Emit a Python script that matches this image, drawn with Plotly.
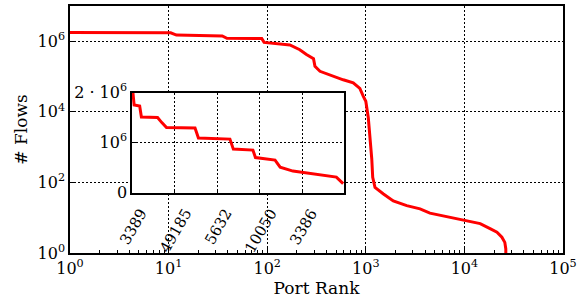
import plotly.graph_objects as go

# Main curve: port rank vs number of flows (log-log)
rank = [1, 10.5, 12, 35, 39, 88, 93, 140, 170, 214, 250, 295, 305, 343, 468, 590,
        746, 870, 944, 1000, 1060, 1120, 1150, 1175, 1240, 1510, 1900, 2600, 3550,
        4470, 6600, 10000, 14450, 18200, 21400, 24000, 25700, 26300, 26300]
flows = [1.76e6, 1.74e6, 1.5e6, 1.42e6, 1.22e6, 1.2e6, 9.3e5, 8.5e5, 7.9e5, 5.75e5,
         4.2e5, 3.2e5, 1.95e5, 1.41e5, 1.0e5, 8.1e4, 6.6e4, 4.6e4, 2.75e4, 2.0e4,
         6.8e3, 1.5e3, 4.6e2, 1.4e2, 72, 47, 30, 22, 17.8, 13.5, 10.7, 8.3, 6.8, 4.9,
         3.9, 2.8, 2.0, 1.3, 1.0]

# Inset: top ports (linear scale)
inset_rank = [0, 0.12, 0.25, 0.9, 1.1, 3.0, 3.5, 4.05, 7.4, 7.8, 11.5, 11.9, 14.2,
              14.5, 16.8, 17.4, 18.9, 21.7, 24.0, 24.8]
inset_flows = [2.0e6, 1.98e6, 1.75e6, 1.73e6, 1.51e6, 1.50e6, 1.40e6, 1.30e6, 1.29e6,
               1.09e6, 1.07e6, 0.87e6, 0.85e6, 0.70e6, 0.65e6, 0.51e6, 0.43e6,
               0.36e6, 0.31e6, 0.18e6]
inset_tick_pos = [0, 5, 10, 15, 20]
inset_tick_labels = ["3389", "49185", "5632", "10050", "3386"]

main_xticks = [1, 10, 100, 1000, 10000, 100000]
main_xlabels = ["10<sup>0</sup>", "10<sup>1</sup>", "10<sup>2</sup>",
                "10<sup>3</sup>", "10<sup>4</sup>", "10<sup>5</sup>"]
main_yticks = [1, 100, 10000, 1000000]
main_ylabels = ["10<sup>0</sup>", "10<sup>2</sup>", "10<sup>4</sup>", "10<sup>6</sup>"]
inset_yticks = [0, 1e6, 2e6]
inset_ylabels = ["0", "10<sup>6</sup>", "2 · 10<sup>6</sup>"]

FONT = "DejaVu Serif"
FS = 16
RED = "#ff0000"

fig = go.Figure()
fig.add_trace(go.Scatter(x=rank, y=flows, mode="lines",
                         line=dict(color=RED, width=3), xaxis="x", yaxis="y",
                         showlegend=False))
fig.add_trace(go.Scatter(x=inset_rank, y=inset_flows, mode="lines",
                         line=dict(color=RED, width=3), xaxis="x2", yaxis="y2",
                         showlegend=False))

minor_x = [m * 10 ** k for k in range(0, 5) for m in range(2, 10)]

grid = dict(showgrid=True, gridcolor="black", gridwidth=1, griddash="2px,2px")
axline = dict(showline=True, linecolor="black", linewidth=1.5, mirror=True,
              ticks="inside", tickcolor="black", tickwidth=1, zeroline=False,
              automargin=False)

fig.update_layout(
    width=580, height=304,
    margin=dict(l=70, r=17, t=6, b=51, autoexpand=False),
    paper_bgcolor="white", plot_bgcolor="white",
    font=dict(family=FONT, size=FS, color="black"),
    xaxis=dict(type="log", range=[0, 5], domain=[0, 1],
               tickvals=main_xticks, ticktext=main_xlabels, ticklen=6,
               minor=dict(tickvals=minor_x, ticks="inside", ticklen=3,
                          tickcolor="black", tickwidth=1, showgrid=False),
               title=dict(text="Port Rank", standoff=5, font=dict(size=17)),
               **grid, **axline),
    yaxis=dict(type="log", range=[0, 7], domain=[0, 1],
               tickvals=main_yticks, ticktext=main_ylabels, ticklen=6,
               title=dict(text="# Flows", standoff=6, font=dict(size=17)),
               **grid, **axline),
    xaxis2=dict(range=[0, 24.9], domain=[0.1258, 0.5558], anchor="y2",
                tickvals=inset_tick_pos, showticklabels=False, ticklen=4,
                **grid, **axline),
    yaxis2=dict(range=[0, 2e6], domain=[0.2445, 0.6494], anchor="x2",
                tickvals=inset_yticks, ticktext=inset_ylabels, ticklen=4,
                **grid, **axline),
)

for pos, lab in zip(inset_tick_pos, inset_tick_labels):
    fig.add_annotation(x=pos, xref="x2", y=0.203, yref="paper", text=lab,
                       showarrow=False, textangle=-60, xanchor="center",
                       yanchor="top", xshift=1, font=dict(family=FONT, size=15))

fig.write_html("out.html", config={"displayModeBar": False},
               post_script="document.body.style.margin='0px';"
                           "document.body.style.overflow='hidden';")
